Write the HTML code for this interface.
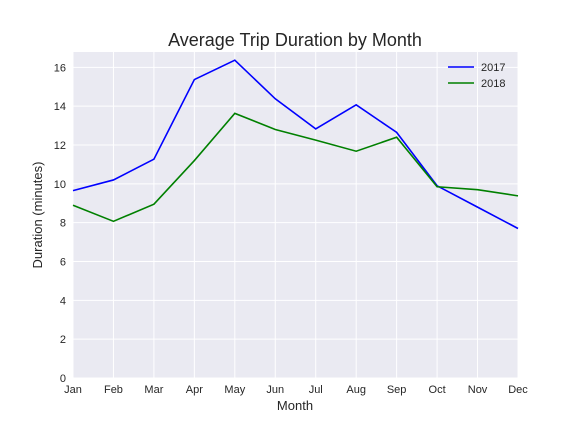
<!DOCTYPE html>
<html><head><meta charset="utf-8"><style>
body{margin:0;background:#fff;font-family:"Liberation Sans",sans-serif}
text{font-family:"Liberation Sans",sans-serif}
</style></head><body>
<svg id="c" width="576" height="432" xmlns="http://www.w3.org/2000/svg"></svg>
<script>
const months=["Jan","Feb","Mar","Apr","May","Jun","Jul","Aug","Sep","Oct","Nov","Dec"];
const s2017=[9.65,10.2,11.27,15.37,16.37,14.38,12.83,14.07,12.65,9.9,8.8,7.7];
const s2018=[8.9,8.07,8.95,11.2,13.63,12.8,12.25,11.68,12.4,9.85,9.7,9.38];
const yTicks=[0,2,4,6,8,10,12,14,16];
const L=73,R=518,T=52,B=378,YMAX=16.79;
const svg=document.getElementById('c');const NS="http://www.w3.org/2000/svg";
function X(i){return L+i*(R-L)/(months.length-1);}
function Y(v){return B-v*(B-T)/YMAX;}
function mk(t,a,txt){const e=document.createElementNS(NS,t);for(const k in a)e.setAttribute(k,a[k]);if(txt!=null)e.textContent=txt;svg.appendChild(e);return e;}
let e=mk('rect',{x:L,y:T,width:R-L,height:B-T,fill:'#eaeaf2'});


months.forEach((m,i)=>{
 let g=mk('line',{x1:X(i),x2:X(i),y1:T,y2:B,stroke:'#fff','stroke-width':1});
 
 
 let t=mk('text',{x:X(i),y:393,'text-anchor':'middle','font-size':11,fill:'#262626'},m);
 
 
});
yTicks.forEach(v=>{
 let g=mk('line',{x1:L,x2:R,y1:Y(v),y2:Y(v),stroke:'#fff','stroke-width':1});
 
 
 let t=mk('text',{x:L-7,y:Y(v)+4,'text-anchor':'end','font-size':11,fill:'#262626'},v);
 
 
});
function line(d,c,n){let p=mk('polyline',{points:d.map((v,i)=>X(i)+','+Y(v)).join(' '),fill:'none',stroke:c,'stroke-width':1.6});
 
 }
line(s2017,'#0000ff','line-2017');
line(s2018,'#008000','line-2018');
let ti=mk('text',{x:295,y:46,'text-anchor':'middle','font-size':18,fill:'#262626'},'Average Trip Duration by Month');


let xt=mk('text',{x:295,y:410,'text-anchor':'middle','font-size':13,fill:'#262626'},'Month');


let yt=mk('text',{x:42,y:215,'text-anchor':'middle','font-size':13,fill:'#262626',transform:'rotate(-90 42 215)'},'Duration (minutes)');


[['2017','#0000ff',67],['2018','#008000',83]].forEach(([n,c,y])=>{
 let l=mk('line',{x1:448,x2:474,y1:y,y2:y,stroke:c,'stroke-width':1.6});
 
 
 let t=mk('text',{x:481,y:y+4,'font-size':11,fill:'#262626'},n);
 
 
});
</script>
</body></html>
